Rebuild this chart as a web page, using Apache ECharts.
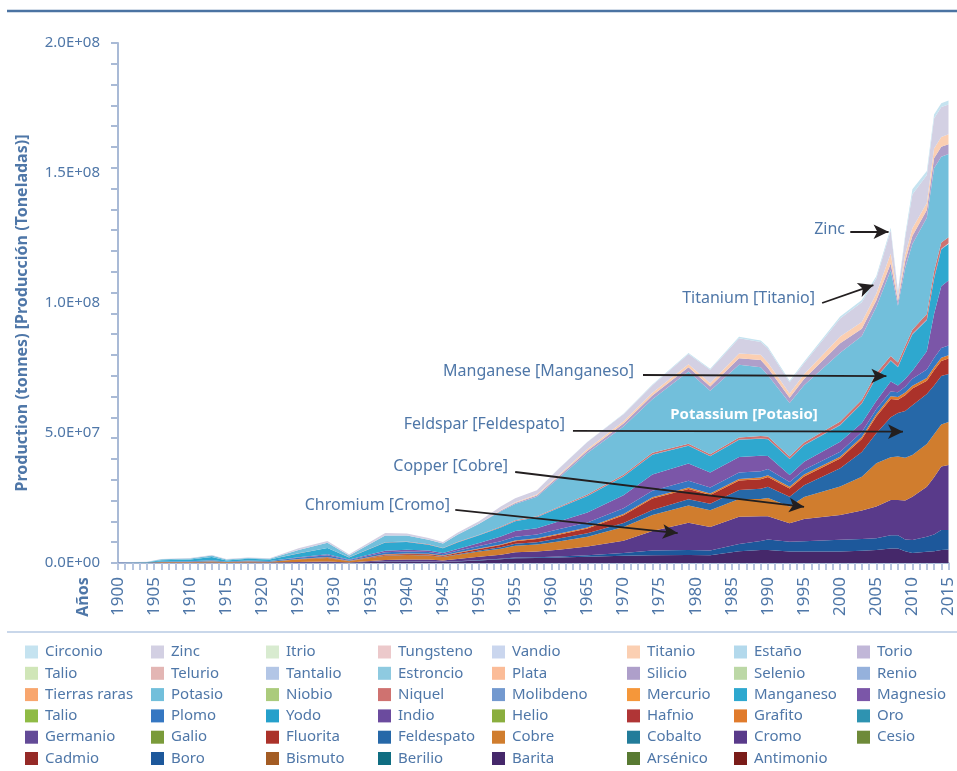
<!DOCTYPE html>
<html>
<head>
<meta charset="utf-8">
<title>Producción mundial de minerales</title>
<script src="https://cdn.jsdelivr.net/npm/echarts@6.0.0/dist/echarts.min.js"></script>
<style>
  html, body { margin: 0; padding: 0; background: #fff; }
  #chart { width: 957px; height: 771px; }
</style>
</head>
<body>
<div id="chart"></div>
<script>
// valores en millones de toneladas (Mt)
const years = [1900,1904,1906,1910,1913,1915,1918,1921,1925,1929,
  1932,1937,1940,1943,1945,1947,1950,1953,1955,1958,
  1961,1965,1970,1974,1979,1982,1986,1989,1990,1993,
  1995,2000,2003,2005,2007,2008,2009,2010,2012,2013,
  2014,2015]

const barita = [0.05,0,0.05,0,0.1,0,0.05,0.05,0.2,0.3,
  0.1,0.6,0.6,0.5,0.4,0.6,1.0,1.4,1.8,1.9,
  2.1,2.4,2.8,3.0,3.1,3.0,4.5,5.0,5.0,4.4,
  4.4,4.4,4.7,5.0,5.6,5.6,4.5,3.8,4.3,4.5,
  5.0,5.2]
const boro = [0,0,0,0,0,0,0,0,0,0,
  0,0.1,0.1,0.1,0.1,0.1,0.2,0.2,0.3,0.3,
  0.4,0.6,1.0,1.8,1.9,1.8,2.8,3.5,4.0,3.8,
  4.0,4.5,4.5,4.5,5.1,5.1,4.5,5.0,5.8,6.5,
  7.7,7.5]
const cromo = [0.02,0,0.05,0.05,0.1,0.05,0.1,0.1,0.2,0.3,
  0.1,0.5,0.6,0.7,0.5,0.8,1.2,1.6,2.0,2.2,
  2.6,3.3,4.8,7.5,10.5,9.0,10.5,9.5,9.0,7.1,
  8.5,9.6,11.0,12.2,13.5,13.5,15.0,16.7,19.2,22.0,
  24.4,25.0]
const cobre = [0.05,0.1,0.2,0.25,0.35,0.3,0.35,0.3,0.9,1.3,
  0.5,1.6,1.8,1.6,1.3,1.7,2.0,2.3,2.5,2.7,
  3.2,3.8,5.2,6.2,6.6,6.5,6.8,6.6,7.0,6.4,
  8.5,10.9,13.0,16.7,16.5,16.8,16.5,16.0,16.5,16.5,
  16.2,16.5]
const feldespato = [0,0,0,0,0,0,0,0,0,0.1,
  0,0.1,0.1,0.1,0.1,0.2,0.4,0.6,0.8,0.9,
  1.1,1.3,1.6,1.9,2.4,2.5,3.5,4.0,4.3,3.8,
  4.5,7.0,9.5,11.5,15.4,16.7,18.0,19.2,19.2,18.8,
  18.6,18.5]
const fluorita = [0,0,0,0,0.05,0,0.05,0,0.1,0.2,
  0.05,0.3,0.3,0.4,0.3,0.4,0.6,0.8,1.0,1.2,
  1.5,1.9,3.0,4.4,4.0,3.4,3.6,3.6,3.8,3.2,
  3.4,3.8,5.0,6.4,7.0,5.1,6.0,6.4,5.1,5.8,
  5.8,6.0]
const grafito = [0,0,0.05,0.05,0.1,0.05,0.1,0.05,0.1,0.15,
  0.1,0.2,0.2,0.2,0.15,0.2,0.2,0.25,0.3,0.3,
  0.35,0.4,0.45,0.5,0.55,0.55,0.6,0.65,0.65,0.6,
  0.7,0.7,0.8,0.9,1.0,1.0,1.1,1.1,1.1,1.2,
  1.2,1.2]
const plomo = [0.05,0.1,0.2,0.25,0.3,0.2,0.25,0.25,0.5,0.6,
  0.35,0.7,0.7,0.6,0.5,0.7,0.9,1.2,1.4,1.5,
  1.7,1.9,2.2,2.5,2.6,2.3,2.5,2.4,2.4,1.9,
  1.9,1.9,1.9,1.9,1.9,1.9,2.2,2.7,3.2,3.5,
  3.8,3.8]
const magnesio = [0,0,0.05,0.1,0.1,0,0.1,0.05,0.2,0.4,
  0.15,0.6,0.7,0.6,0.5,0.7,1.2,1.8,2.2,2.4,
  3.0,3.8,5.0,6.2,6.6,5.8,6.0,6.0,5.0,2.6,
  3.0,3.8,3.4,3.2,3.8,2.6,3.0,3.0,7.0,17.0,
  23.7,25.0]
const manganeso = [0.05,0.1,0.5,0.6,1.2,0.4,0.6,0.5,1.5,2.4,
  0.8,3.2,3.0,2.2,1.8,2.5,3.0,3.5,3.8,4.2,
  5.2,6.4,7.2,7.6,6.8,6.2,6.6,6.5,6.4,6.2,
  6.4,6.4,7.5,9.0,8.0,7.0,11.0,14.0,12.0,13.5,
  14.2,14.0]
const molibdeno = [0,0,0,0,0,0,0,0,0,0,
  0,0.02,0.03,0.05,0.03,0.03,0.04,0.05,0.05,0.05,
  0.06,0.07,0.09,0.09,0.1,0.09,0.09,0.11,0.12,0.1,
  0.13,0.13,0.13,0.19,0.21,0.22,0.22,0.24,0.26,0.27,
  0.27,0.27]
const niquel = [0,0,0,0,0,0,0,0,0.03,0.05,
  0.03,0.1,0.13,0.15,0.12,0.12,0.15,0.2,0.25,0.3,
  0.35,0.45,0.65,0.75,0.7,0.65,0.8,0.95,0.95,0.85,
  0.95,1.25,1.4,1.5,1.6,1.6,1.4,1.6,2.1,2.5,
  2.4,2.3]
const potasio = [0,0.1,0.3,0.4,0.6,0.3,0.35,0.35,1.3,2.0,
  0.75,2.6,2.3,1.7,1.7,2.8,4.2,6.0,6.3,7.5,
  11.0,16.0,18.5,20.5,27.8,24.5,28.0,26.5,23.6,20.6,
  22.0,26.5,24.5,25.5,33.0,21.8,30.0,33.0,37.0,39.8,
  33.0,32.0]
const silicio = [0,0,0,0,0,0,0,0,0,0,
  0,0,0,0,0,0,0,0.3,0.4,0.5,
  0.7,0.9,1.2,1.5,1.6,1.6,2.5,2.8,2.8,2.0,
  2.4,3.6,2.8,2.5,2.6,1.8,2.6,3.0,3.0,3.8,
  3.8,3.8]
const titanio = [0,0,0,0,0,0,0,0,0,0,
  0,0,0,0,0,0,0,0.2,0.3,0.4,
  0.5,0.6,0.8,1.0,1.2,1.2,1.8,2.0,2.0,1.6,
  1.8,2.6,2.6,2.6,3.8,1.5,2.6,3.0,2.7,3.8,
  3.8,3.8]
const zinc = [0.05,0.1,0.15,0.2,0.2,0.2,0.2,0.2,0.6,0.7,
  0.4,0.9,0.8,0.7,0.6,0.8,1.0,1.3,1.5,1.6,
  2.4,2.7,2.7,2.9,3.9,5.2,5.9,4.9,5.5,4.4,
  4.2,7.0,7.6,5.8,8.9,1.9,6.6,13.0,10.8,11.5,
  11.5,11.5]
const circonio = [0,0,0,0,0,0,0,0,0,0,
  0,0,0,0,0,0,0,0,0,0,
  0.1,0.15,0.2,0.3,0.4,0.4,0.5,0.6,0.6,0.5,
  0.6,0.7,0.8,0.9,1.0,0.6,1.0,2.0,1.5,1.5,
  1.5,1.5]
const vacio = []  // minerales sin volumen visible

// orden de apilado, de abajo hacia arriba
const layers = [
  ['Antimonio', '#7a1c19', vacio],
  ['Arsénico', '#587a32', vacio],
  ['Barita', '#45286a', barita],
  ['Berilio', '#0f6d81', vacio],
  ['Bismuto', '#a35c24', vacio],
  ['Boro', '#1d589b', boro],
  ['Cadmio', '#952a27', vacio],
  ['Cesio', '#6e8a39', vacio],
  ['Cromo', '#593a8a', cromo],
  ['Cobalto', '#227c9a', vacio],
  ['Cobre', '#d07d2e', cobre],
  ['Feldespato', '#2668a8', feldespato],
  ['Fluorita', '#ab322a', fluorita],
  ['Galio', '#7a9b3a', vacio],
  ['Germanio', '#634a97', vacio],
  ['Oro', '#2e93b1', vacio],
  ['Grafito', '#e07b2c', grafito],
  ['Hafnio', '#b03536', vacio],
  ['Helio', '#8aae3e', vacio],
  ['Indio', '#6b4b9e', vacio],
  ['Yodo', '#25a0cb', vacio],
  ['Plomo', '#3577c2', plomo],
  ['Talio ', '#8fbb45', vacio],
  ['Magnesio', '#7b56a8', magnesio],
  ['Manganeso', '#2ea8cf', manganeso],
  ['Mercurio', '#f5973a', vacio],
  ['Molibdeno', '#7399cf', molibdeno],
  ['Niquel', '#cf7270', niquel],
  ['Niobio', '#abcb7c', vacio],
  ['Potasio', '#72bfdb', potasio],
  ['Tierras raras', '#f8a66e', vacio],
  ['Renio', '#95b1dc', vacio],
  ['Selenio', '#bcd8a6', vacio],
  ['Silicio', '#ae9fca', silicio],
  ['Plata', '#fbbc98', vacio],
  ['Estroncio', '#8ecae0', vacio],
  ['Tantalio', '#b3c6e6', vacio],
  ['Telurio', '#e3b6b4', vacio],
  ['Talio', '#d0e6b8', vacio],
  ['Torio', '#c1b7d8', vacio],
  ['Estaño', '#b3d9ec', vacio],
  ['Titanio', '#fbcfb2', titanio],
  ['Vandio', '#cad6ee', vacio],
  ['Tungsteno', '#ecc9cb', vacio],
  ['Itrio', '#d8ebd0', vacio],
  ['Zinc', '#d3d0e3', zinc],
  ['Circonio', '#c5e3f0', circonio],
]

// flechas de anotación: [año inicio, Mt inicio, año fin, Mt fin]
const arrows = [
  [2001.4, 127.4, 2006.7, 127.4],
  [1997.5, 100.0, 2004.6, 106.9],
  [1972.7, 72.3, 2006.4, 71.9],
  [1963.0, 50.8, 2008.7, 50.5],
  [1955.0, 35.0, 1995.0, 21.6],
  [1946.7, 20.4, 1977.5, 11.5],
]

const blue = '#4f77a8'
const font = '"Noto Sans", sans-serif'

const sci = (v) => {
  const t = v * 1e6
  if (t === 0) return '0.0E+00'
  const e = Math.floor(Math.log10(t) + 1e-9)
  return (t / Math.pow(10, e)).toFixed(1) + 'E+' + String(e).padStart(2, '0')
}

// valor primero, año después: así la pila se hace sobre el eje y
const series = layers.map(([name, color, vals]) => ({
  name,
  type: 'line',
  stack: vals.length ? 'total' : undefined,
  encode: { x: 1, y: 0 },
  showSymbol: false,
  symbol: 'none',
  silent: true,
  color,
  itemStyle: { color },
  lineStyle: { width: 0 },
  areaStyle: { color, opacity: 1 },
  data: vals.map((v, i) => [v, years[i]]),
}))

series.push({
  name: 'anotaciones',
  type: 'line',
  data: [],
  silent: true,
  z: 10,
  markLine: {
    silent: true,
    animation: false,
    symbol: ['none', 'arrow'],
    symbolSize: [11, 15],
    lineStyle: { color: '#231f20', width: 1.8, type: 'solid' },
    label: { show: false },
    emphasis: { disabled: true },
    data: arrows.map(a => [{ coord: [a[0], a[1]] }, { coord: [a[2], a[3]] }]),
  },
})

// leyenda: 8 columnas, orden por filas (inverso al apilado)
const legendNames = layers.map(l => l[0]).reverse()
const colX = [25, 151, 266, 378, 492, 627, 734, 857]
const legends = colX.map((x, c) => ({
  orient: 'vertical',
  left: x,
  top: 644.5,
  padding: 0,
  itemWidth: 13,
  itemHeight: 13,
  itemGap: 6.3,
  icon: 'rect',
  selectedMode: false,
  data: legendNames.filter((_, i) => i % 8 === c),
  formatter: (n) => n.trim(),
  textStyle: { color: blue, fontSize: 15, fontFamily: font, lineHeight: 15, padding: [0, 0, 0, 2] },
}))

const note = (text, x, y, align, extra) => ({
  type: 'text', x, y, z: 20,
  style: Object.assign({
    text, fill: blue, font: '16px ' + font,
    align, verticalAlign: 'middle', textAlign: align, textVerticalAlign: 'middle',
  }, extra || {}),
})

const tickColor = '#b6c5df'

const chart = echarts.init(document.getElementById('chart'))

chart.setOption({
  animation: false,
  backgroundColor: '#fff',
  grid: { left: 118, right: 5, top: 43, bottom: 208, containLabel: false },
  legend: legends,
  xAxis: [
    {
      type: 'value',
      min: 1900,
      max: 2015,
      interval: 5,
      axisLine: { show: true, lineStyle: { color: '#a9bad6', width: 2 } },
      axisTick: { show: false },
      splitLine: { show: false },
      axisLabel: {
        rotate: 90, margin: 14, color: blue, fontSize: 17, fontFamily: font,
        formatter: (v) => String(v),
      },
    },
    {
      // marcas anuales del eje de años
      type: 'value',
      position: 'bottom',
      min: 1900,
      max: 2015,
      interval: 1,
      axisLine: { show: false },
      axisTick: { show: true, length: 7, lineStyle: { color: tickColor, width: 2 } },
      axisLabel: { show: false },
      splitLine: { show: false },
    },
  ],
  yAxis: [
    {
      type: 'value',
      min: 0,
      max: 200,
      interval: 50,
      axisLine: { show: true, lineStyle: { color: '#a9bad6', width: 2 } },
      axisTick: { show: false },
      splitLine: { show: false },
      axisLabel: { color: blue, fontSize: 15, fontFamily: font, margin: 18, formatter: sci },
    },
    {
      type: 'value',
      min: 0,
      max: 200,
      interval: 8,
      position: 'left',
      axisLine: { show: false },
      axisTick: { show: true, length: 7, lineStyle: { color: '#a9bad6', width: 2 } },
      axisLabel: { show: false },
      splitLine: { show: false },
    },
  ],
  graphic: [
    { type: 'line', shape: { x1: 7, y1: 11, x2: 957, y2: 11 }, style: { stroke: '#4b73a2', lineWidth: 2.5 } },
    { type: 'line', shape: { x1: 7, y1: 632, x2: 957, y2: 632 }, style: { stroke: '#c9d7ea', lineWidth: 2 } },
    {
      type: 'text', x: 22, y: 313, rotation: Math.PI / 2,
      style: {
        text: 'Production (tonnes) [Producción (Toneladas)]', fill: blue,
        font: 'bold 16px ' + font, align: 'center', verticalAlign: 'middle',
        textAlign: 'center', textVerticalAlign: 'middle',
      },
    },
    {
      type: 'text', x: 83, y: 597, rotation: Math.PI / 2,
      style: {
        text: 'Años', fill: blue, font: 'bold 16px ' + font,
        align: 'center', verticalAlign: 'middle', textAlign: 'center', textVerticalAlign: 'middle',
      },
    },
    note('Zinc', 845, 229, 'right'),
    note('Titanium [Titanio]', 815, 298, 'right'),
    note('Manganese [Manganeso]', 634, 371, 'right'),
    note('Feldspar [Feldespato]', 565, 424, 'right'),
    note('Copper [Cobre]', 508, 466, 'right'),
    note('Chromium [Cromo]', 450, 505, 'right'),
    note('Potassium [Potasio]', 744, 415, 'center', { fill: '#ffffff', font: 'bold 15px ' + font }),
  ],
  series,
})
</script>
</body>
</html>
